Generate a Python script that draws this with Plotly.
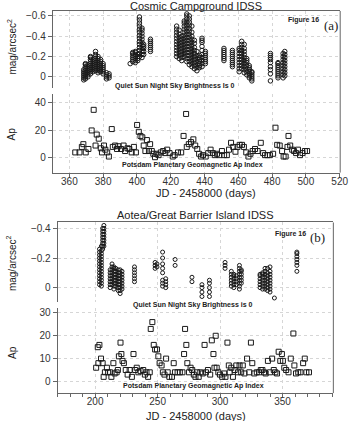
import plotly.graph_objects as go

# Figure 16 (a): Cosmic Campground IDSS, night sky brightness per night (mag/arcsec^2)
A_NIGHT_X = [368.5, 369.5, 371, 372.5, 374, 375.5, 377, 378.5, 380, 382, 383.5,
             396, 397.5, 399, 400.5, 401.5, 403, 404, 408,
             423.5, 425, 426.5, 428, 429.5, 431, 432.5, 434, 435.5, 437, 438.5, 440.5,
             451.5, 456.5, 460.5, 462, 463.5, 465, 466.5, 468,
             479, 483.5, 486.5, 487.5]
A_NIGHT_MAG = [
    [0.03, 0.01, -0.01, -0.03, -0.05, -0.07],
    [0.02, 0.0, -0.02, -0.04, -0.06, -0.08, -0.1, -0.12, -0.13],
    [0.0, -0.02, -0.04, -0.06, -0.08, -0.1, -0.12],
    [-0.03, -0.05, -0.07, -0.09, -0.11, -0.13, -0.15, -0.17, -0.19, -0.2],
    [-0.05, -0.07, -0.09, -0.11, -0.13, -0.15, -0.17],
    [-0.06, -0.08, -0.1, -0.12, -0.14, -0.16, -0.18, -0.2, -0.22, -0.25],
    [-0.04, -0.06, -0.08, -0.1, -0.12, -0.14, -0.16, -0.18, -0.2],
    [-0.05, -0.07, -0.09, -0.11, -0.13, -0.15, -0.17],
    [-0.03, -0.05, -0.07, -0.09, -0.11, -0.13],
    [0.02, 0.0, -0.02, -0.04],
    [0.01, -0.01, -0.03],
    [-0.13],
    [-0.15, -0.17, -0.19, -0.21, -0.23, -0.24],
    [-0.14, -0.16, -0.18, -0.2, -0.22, -0.24, -0.25],
    [-0.16, -0.18, -0.2, -0.22],
    [-0.2, -0.23, -0.26, -0.29, -0.32, -0.35, -0.38, -0.41, -0.44, -0.47, -0.5, -0.53, -0.56, -0.59],
    [-0.19, -0.22, -0.25, -0.28, -0.31, -0.34, -0.37, -0.4, -0.43, -0.46, -0.48],
    [-0.22, -0.25, -0.28, -0.3, -0.32],
    [-0.25, -0.27, -0.29, -0.31, -0.33, -0.35, -0.37],
    [-0.2, -0.23, -0.26, -0.29, -0.32, -0.35, -0.38, -0.41, -0.44, -0.47, -0.5],
    [-0.18, -0.21, -0.24, -0.27, -0.3, -0.33, -0.36, -0.39, -0.42, -0.46],
    [-0.16, -0.19, -0.22, -0.25, -0.28, -0.31, -0.34, -0.37, -0.4],
    [-0.2, -0.23, -0.26, -0.29, -0.32, -0.35, -0.38, -0.41, -0.44, -0.47, -0.5, -0.53, -0.55],
    [-0.15, -0.18, -0.21, -0.24, -0.27, -0.3, -0.33, -0.36, -0.39, -0.42, -0.45, -0.48, -0.51,
     -0.54, -0.57, -0.6, -0.62],
    [-0.12, -0.15, -0.18, -0.21, -0.24, -0.27, -0.3, -0.33, -0.36, -0.39, -0.42, -0.45, -0.48,
     -0.51, -0.54, -0.57, -0.6],
    [-0.1, -0.13, -0.16, -0.19, -0.22, -0.25, -0.28, -0.31, -0.34, -0.37, -0.4, -0.44, -0.5],
    [-0.08, -0.11, -0.14, -0.17, -0.2, -0.23, -0.26, -0.29, -0.33, -0.36],
    [-0.06, -0.09, -0.12, -0.15, -0.18, -0.21, -0.25],
    [-0.09, -0.11, -0.13, -0.15, -0.17, -0.19, -0.21],
    [-0.1, -0.13, -0.16, -0.19, -0.22, -0.26, -0.3, -0.34, -0.36, -0.38],
    [-0.13, -0.15, -0.17, -0.19, -0.21, -0.23, -0.25],
    [-0.16, -0.18, -0.2, -0.22, -0.24, -0.26, -0.28],
    [-0.1, -0.12, -0.14, -0.16, -0.18, -0.2, -0.22, -0.24, -0.26],
    [-0.05, -0.08, -0.11, -0.14, -0.17, -0.2, -0.23, -0.26, -0.28],
    [-0.08, -0.11, -0.14, -0.17, -0.2, -0.23, -0.26, -0.29, -0.32, -0.35],
    [-0.04, -0.07, -0.1, -0.13, -0.16, -0.19, -0.22, -0.25, -0.28, -0.32],
    [-0.02, -0.05, -0.08, -0.11, -0.14, -0.16, -0.18],
    [0.01, -0.01, -0.03, -0.05, -0.07, -0.09, -0.11],
    [0.04, 0.02, 0.0, -0.02, -0.04, -0.05],
    [0.04, -0.03, -0.07, -0.1, -0.14, -0.17, -0.19, -0.21, -0.23],
    [0.01, -0.01, -0.03, -0.05, -0.07, -0.09, -0.11, -0.13, -0.14],
    [0.01, -0.02, -0.05, -0.08, -0.11, -0.14, -0.17, -0.2, -0.23],
    [-0.01, -0.04, -0.07, -0.1, -0.13, -0.16, -0.19, -0.22, -0.25],
]

# Potsdam Ap index for (a)
AP_A_X = [363.5, 366, 367.4, 368.3, 369.7, 371.3, 373.2, 374.4, 375.5, 376.2, 377.4, 378.6,
          379.3, 380.5, 381.3, 382.4, 383.4, 385.1, 385.7, 387.1, 388.2, 389, 390.6, 392.1,
          393, 394.4, 395.5, 396.9, 398.2, 399.4, 400.1, 401.1, 402.1, 403.2, 404, 405,
          405.9, 407.1, 407.8, 408.8, 409.7, 410.7, 411.6, 412.8, 414.1, 415.5, 416.8, 417.9,
          419.3, 421.2, 422.3, 424.3, 426.2, 427.6, 429.1, 429.5, 430.7, 432, 433.4, 434.5,
          435.7, 436.8, 438, 439.1, 440.7, 442.2, 443.6, 444.9, 446.1, 447.4, 448.8, 450.3,
          451.6, 453.2, 454.5, 455.7, 457, 458.3, 459.5, 460.8, 462.2, 463.3, 464.7, 466,
          467.2, 468.5, 469.9, 471.4, 473.3, 474.7, 475.8, 477.2, 478.7, 480.6, 482, 483,
          484.5, 485.9, 486.8, 488, 489.1, 489.7, 490.7, 491.9, 493, 494.2, 495.3, 496.5,
          498, 499.4, 500.7]
AP_A = [4, 4, 8, 10, 4, 6.5, 20, 35, 9, 17, 14, 7,
        4, 9, 6, 4, 1, 21, 8, 9, 6.5, 8.5, 6.5, 9,
        5, 7, 6.5, 4, 8, 4, 24, 19, 16, 15, 9, 5,
        13, 5, 10, 5, 3, 0.5, 3, 2, 4, 5, 3.5, 6,
        3.5, 1, 2, 4, 4, 16, 32, 8, 10, 11.5, 13.5, 9,
        6.5, 3, 1, 2, 1, 3.5, 6, 3.5, 2, 3, 2, 5,
        2, 2, 6, 11, 8, 4.5, 8, 9.5, 9.5, 8, 4, 1,
        3, 5, 6.5, 5, 11, 3.5, 2, 2, 2, 3, 22, 9.5,
        9, 5, 1, 1, 8, 16, 9, 6, 5, 3.5, 6, 2,
        3.5, 5, 5]

# Figure 16 (b): Aotea/Great Barrier Island IDSS
B_NIGHT_X = [203.5, 205, 206, 207, 212, 213.5, 215, 216.5, 218.5, 220, 221.5, 231.5,
             248, 249.5, 254, 256.5, 264, 277.5, 285.5, 291.5, 304, 309, 311, 313,
             315.5, 317, 332, 334, 336, 338, 340, 343.5, 361.5]
B_NIGHT_MAG = [
    [-0.02, -0.04, -0.06, -0.08, -0.1, -0.12, -0.14, -0.16, -0.18, -0.2, -0.22, -0.24, -0.26],
    [-0.01, -0.03, -0.05, -0.07, -0.09, -0.11, -0.13, -0.15, -0.17, -0.19, -0.21, -0.23,
     -0.25, -0.28],
    [-0.26, -0.28, -0.3, -0.32, -0.34, -0.36, -0.38, -0.4],
    [-0.28, -0.3, -0.32, -0.34, -0.36, -0.38, -0.4, -0.42],
    [0.0, -0.02, -0.04, -0.06, -0.08, -0.1, -0.12],
    [-0.02, -0.04, -0.06, -0.08, -0.1, -0.12, -0.14, -0.16],
    [0.01, -0.01, -0.03, -0.05, -0.07, -0.09, -0.11, -0.13, -0.14],
    [-0.01, -0.03, -0.05, -0.07, -0.09, -0.11, -0.13],
    [0.02, 0.0, -0.02, -0.04, -0.06, -0.08, -0.1, -0.12],
    [0.04, 0.02, 0.0, -0.02, -0.04, -0.06, -0.08, -0.1, -0.12],
    [0.01, -0.01, -0.03, -0.05, -0.07, -0.09, -0.11],
    [-0.04, -0.06, -0.08, -0.1, -0.12, -0.14],
    [-0.13, -0.15, -0.17],
    [-0.14, -0.16],
    [-0.01, -0.03, -0.05, -0.1, -0.13, -0.16, -0.2, -0.24],
    [0.0, -0.02, -0.04, -0.06],
    [-0.15, -0.19],
    [-0.04, -0.07],
    [0.06, 0.03, 0.0, -0.02],
    [0.06, 0.03, 0.0, -0.03, -0.05],
    [-0.13, -0.15, -0.17],
    [-0.01, -0.03, -0.05, -0.07, -0.09, -0.11],
    [0.0, -0.02, -0.04, -0.06, -0.08, -0.09],
    [-0.02, -0.04, -0.06, -0.08],
    [0.01, -0.01, -0.03, -0.05, -0.07, -0.09, -0.11, -0.13, -0.15],
    [-0.03, -0.05, -0.07, -0.09, -0.11, -0.12],
    [0.0, -0.02, -0.04, -0.06, -0.08, -0.09],
    [0.01, -0.01, -0.03, -0.05, -0.07, -0.09, -0.1],
    [0.01, -0.01, -0.03, -0.05, -0.07, -0.09, -0.11, -0.13],
    [0.02, 0.0, -0.02, -0.04, -0.06, -0.08, -0.1, -0.13],
    [0.03, 0.01, -0.01, -0.03, -0.05, -0.07, -0.09, -0.11, -0.14],
    [0.07],
    [-0.11, -0.15, -0.17, -0.19, -0.21, -0.23, -0.24],
]

AP_B_X = [200.8, 202.1, 202.6, 203.4, 204.7, 206, 206.8, 207.8, 209.4, 210.4, 212, 213,
          214.6, 215.6, 217.2, 218.2, 219, 220.3, 221, 221.9, 223, 224.5, 226, 227.6,
          229.4, 230.7, 232, 233.3, 234.6, 236.4, 238.5, 239.8, 241.1, 242.4, 243.7, 244.5,
          245.8, 246.9, 248, 249.5, 250.6, 251.6, 253.2, 254.2, 255.5, 256.8, 258.1, 259.4,
          261.5, 262.9, 263.9, 266, 267.8, 269.9, 271.2, 272, 273, 273.8, 275.1, 276.4,
          277.7, 279, 280.3, 281.6, 282.9, 284.2, 286.1, 287.6, 288.7, 290.3, 292.1, 293.4,
          294.7, 295.5, 296.5, 297.3, 298.6, 299.9, 301.7, 303.3, 304.3, 305.9, 307, 307.7,
          309, 310.3, 311.7, 313, 314.3, 315.6, 316.9, 318.2, 319.5, 321.6, 323.4, 324.7,
          325.8, 327.4, 329.4, 331.3, 332.6, 333.9, 335.2, 336.5, 338.3, 339.9, 341.7, 343,
          344.3, 345.6, 346.9, 348.2, 349.5, 350.3, 351.4, 352.9, 354.8, 356.6, 358.7, 359.5,
          360.8, 362.6, 364.4, 366.5, 367.8, 369.1, 371.2]
AP_B = [6, 15, 8, 16, 10, 8, 2, 4, 6, 4, 4, 2,
        8, 3.5, 4, 5, 11, 17, 12, 9, 8, 5, 3, 5,
        2, 12, 5, 6, 4, 4.5, 5, 3, 4, 2, 4, 23,
        26, 16, 14, 14, 11, 8, 7, 4, 3, 10, 4, 2,
        2, 8, 4, 4, 4, 4, 12, 23, 16, 8, 4, 6,
        5, 3, 2, 4, 2, 4, 3.5, 16, 4, 5, 3, 18,
        12, 6, 20, 6, 4, 3, 2, 3.5, 2, 17, 7, 4,
        6, 2, 5, 7, 4, 7, 4, 7, 3.5, 10, 4, 17,
        8, 3.5, 4, 4, 5, 5, 4, 3.5, 9, 4, 10, 5,
        4, 3.5, 13, 9, 12, 9, 6, 5, 4, 10, 21, 7,
        3.5, 4, 4, 8, 10, 4, 4]

W, H = 357, 421
FONT = "Liberation Sans"
INK = "#1a1a1a"
AXIS = "#666666"
GRID = "#d6d6d6"


def flatten(xs, groups):
    px, py = [], []
    for x, ys in zip(xs, groups):
        px += [x] * len(ys)
        py += ys
    return px, py


def xdom(p0, p1):
    return [p0 / W, p1 / W]


def ydom(top, bottom):
    return [1 - bottom / H, 1 - top / H]


a_x, a_y = flatten(A_NIGHT_X, A_NIGHT_MAG)
b_x, b_y = flatten(B_NIGHT_X, B_NIGHT_MAG)

fig = go.Figure()
circ = dict(symbol="circle-open", color=INK, line=dict(width=1, color=INK))
sq = dict(symbol="square-open", size=5, color=INK, line=dict(width=1, color=INK))
fig.add_trace(go.Scatter(x=a_x, y=a_y, mode="markers", marker=dict(size=4.5, **circ),
                         xaxis="x", yaxis="y"))
fig.add_trace(go.Scatter(x=AP_A_X, y=AP_A, mode="markers", marker=sq,
                         xaxis="x2", yaxis="y2"))
fig.add_trace(go.Scatter(x=b_x, y=b_y, mode="markers", marker=dict(size=4, **circ),
                         xaxis="x3", yaxis="y3"))
fig.add_trace(go.Scatter(x=AP_B_X, y=AP_B, mode="markers", marker=sq,
                         xaxis="x4", yaxis="y4"))

tickfont = dict(family=FONT, size=10, color="#333333")
ybase = dict(showline=True, linecolor=AXIS, linewidth=1, ticks="outside", ticklen=4,
             tickcolor=AXIS, showgrid=True, gridcolor=GRID, griddash="dot",
             zeroline=False, tickfont=tickfont)
xtop = dict(showline=True, linecolor=AXIS, side="top", ticks="", showticklabels=False,
            showgrid=True, gridcolor=GRID, griddash="dot", zeroline=False)
xbot = dict(showline=True, linecolor=AXIS, ticks="outside", ticklen=4, tickcolor=AXIS,
            showgrid=True, gridcolor=GRID, griddash="dot", zeroline=False, tickfont=tickfont,
            ticklabelstandoff=-5)

xa_range = [350.2, 520.3]
xb_range = [170, 390.7]
xa_ticks = [360, 380, 400, 420, 440, 460, 480, 500, 520]

fig.update_layout(
    width=W, height=H, margin=dict(l=0, r=0, t=0, b=0),
    paper_bgcolor="white", plot_bgcolor="white", showlegend=False,
    xaxis=dict(domain=xdom(54, 348), range=xa_range, tickvals=xa_ticks, anchor="y", **xtop),
    yaxis=dict(domain=ydom(10, 87), range=[0.108, -0.649], tickvals=[-0.6, -0.4, -0.2, 0],
               anchor="x", **ybase),
    xaxis2=dict(domain=xdom(54, 348), range=xa_range, tickvals=xa_ticks, anchor="y2", **xbot),
    yaxis2=dict(domain=ydom(93, 172), range=[-10.7, 46.7], tickvals=[0, 20, 40],
                anchor="x2", **ybase),
    xaxis3=dict(domain=xdom(59, 341), range=xb_range, tickvals=[200, 250, 300, 350],
                anchor="y3", **xtop),
    yaxis3=dict(domain=ydom(222, 302), range=[0.099, -0.44], tickvals=[-0.4, -0.2, 0],
                anchor="x3", **ybase),
    xaxis4=dict(domain=xdom(59, 341), range=xb_range, tickvals=[200, 250, 300, 350],
                anchor="y4", minor=dict(dtick=10, tick0=0, ticks="outside", ticklen=3,
                                        tickcolor=AXIS, showgrid=False), **xbot),
    yaxis4=dict(domain=ydom(308, 393), range=[-5.1, 32.05], tickvals=[0, 10, 20, 30],
                anchor="x4", **ybase),
)

# right-hand frame lines
for x0, y0, y1 in [(348, 10, 172), (341, 222, 393)]:
    fig.add_shape(type="line", xref="paper", yref="paper", x0=x0 / W, x1=x0 / W,
                  y0=1 - y0 / H, y1=1 - y1 / H, line=dict(color=AXIS, width=1))


def note(text, px, py, size, bold=False, family=FONT, angle=0, color="#222222"):
    if bold:
        text = "<b>" + text + "</b>"
    fig.add_annotation(text=text, x=px / W, y=1 - py / H, xref="paper", yref="paper",
                       showarrow=False, textangle=angle, xanchor="center", yanchor="middle",
                       font=dict(family=family, size=size, color=color))


note("Cosmic Campground IDSS", 200, 5, 11)
note("Aotea/Great Barrier Island IDSS", 200, 215, 11)
note("Figure 16", 310, 19, 7, bold=True)
note("(a)", 339, 25, 13, family="Liberation Serif")
note("Figure 16", 297, 234, 7, bold=True)
note("(b)", 325, 237, 13, family="Liberation Serif")
note("Quiet Sun Night Sky Brightness Is 0", 179, 85, 7, bold=True)
note("Potsdam Planetary Geomagnetic Ap Index", 197, 164, 7, bold=True)
note("Quiet Sun Night Sky Brightness is 0", 197, 305, 7, bold=True)
note("Potsdam Planetary Geomagnetic Ap Index", 198, 386, 7, bold=True)
note("JD - 2458000 (days)", 211, 192, 11)
note("JD - 2458000 (days)", 200, 416, 11)
note("mag/arcsec<sup>2</sup>", 12, 46, 10, angle=-90)
note("mag/arcsec<sup>2</sup>", 12, 263, 10, angle=-90)
note("Ap", 12, 133, 10, angle=-90)
note("Ap", 12, 352, 10, angle=-90)

# the page body has a default 8px margin; remove it so the figure sits at the corner
fig.write_html("out.html", config={"displayModeBar": False},
               post_script="document.body.style.margin='0';")
